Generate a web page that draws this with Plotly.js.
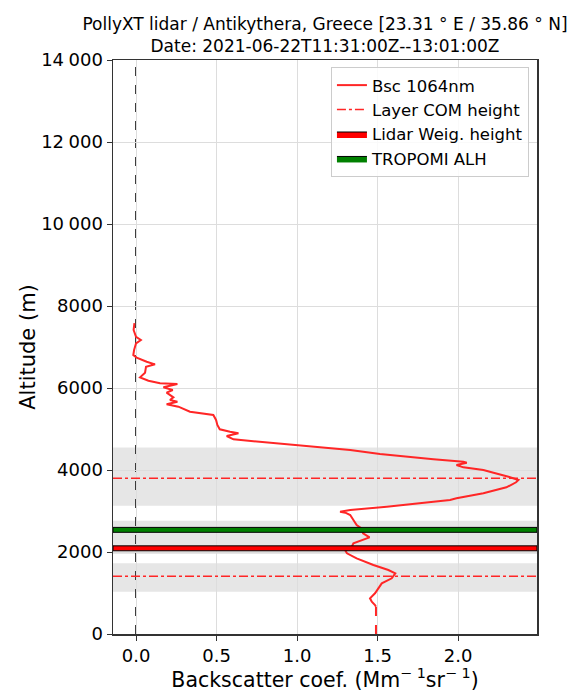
<!DOCTYPE html>
<html>
<head>
<meta charset="utf-8">
<script src="https://cdn.plot.ly/plotly-3.0.1.min.js"></script>
<style>html,body{margin:0;padding:0;background:#fff;}#chart{width:584px;height:692px;}</style>
</head>
<body>
<div id="chart"></div>
<script>
// Backscatter profile (altitude m, backscatter Mm^-1 sr^-1)
var altitude = [666, 707, 789, 870, 992, 1114, 1236, 1358, 1480, 1561, 1683, 1846, 1967, 2033, 2130, 2212, 2293, 2358, 2456, 2577, 2659, 2780, 2902, 2959, 2983, 3024, 3105, 3227, 3268, 3309, 3431, 3577, 3700, 3756, 3837, 3934, 4000, 4065, 4122, 4178, 4203, 4260, 4390, 4488, 4610, 4690, 4748, 4829, 4894, 4935, 4992, 5098, 5220, 5341, 5382, 5422, 5544, 5602, 5666, 5707, 5773, 5886, 5951, 6016, 6098, 6114, 6178, 6260, 6373, 6520, 6577, 6640, 6740, 6805, 6927, 7090, 7170, 7250, 7415, 7580];
var bsc1064 = [1.49, 1.484, 1.464, 1.453, 1.484, 1.505, 1.526, 1.588, 1.61, 1.567, 1.474, 1.37, 1.31, 1.30, 1.34, 1.35, 1.41, 1.45, 1.41, 1.40, 1.37, 1.35, 1.33, 1.30, 1.267, 1.33, 1.557, 1.847, 1.95, 1.99, 2.157, 2.30, 2.36, 2.375, 2.313, 2.22, 2.157, 2.033, 1.99, 2.054, 2.033, 1.847, 1.515, 1.33, 0.998, 0.81, 0.605, 0.563, 0.636, 0.584, 0.52, 0.505, 0.497, 0.48, 0.40, 0.335, 0.263, 0.19, 0.257, 0.211, 0.232, 0.19, 0.228, 0.17, 0.257, 0.149, 0.077, 0.025, 0.056, 0.062, 0.118, 0.066, 0.004, -0.017, -0.012, 0.0, 0.03, 0.0, -0.015, -0.01];
// Overlap region (dashed)
var altitudeLow = [0, 666];
var bscLow = [1.49, 1.49];
// Layer info
var layerBottom = [3130, 1950, 1030];
var layerTop = [4550, 2760, 1725];
var layerCOM = [3800, 1410];
var lidarWeigHeight = 2090;
var tropomiALH = 2540;
// Axes
var xRange = [-0.143, 2.49];
var yRange = [0, 14000];
var xTickVals = [0, 0.5, 1.0, 1.5, 2.0];
var xTickText = ['0.0', '0.5', '1.0', '1.5', '2.0'];
var yTickVals = [0, 2000, 4000, 6000, 8000, 10000, 12000, 14000];
var yTickText = ['0', '2000', '4000', '6000', '8000', '10\u2005000', '12\u2005000', '14\u2005000'];

var barHalf = 60; // half thickness of height bars (style)
var red = '#ff2626';
var font = 'DejaVu Sans, sans-serif';

var traces = [];
traces.push({x: bsc1064, y: altitude, mode: 'lines', name: 'Bsc 1064nm',
  line: {color: red, width: 2}});
traces.push({x: bscLow, y: altitudeLow, mode: 'lines', showlegend: false, hoverinfo: 'skip',
  line: {color: red, width: 2, dash: 'dash'}});
layerCOM.forEach(function(h, i) {
  traces.push({x: xRange, y: [h, h], mode: 'lines', name: 'Layer COM height',
    legendgroup: 'com', showlegend: i === 0,
    line: {color: red, width: 1.6, dash: 'dashdot'}});
});
function bar(h, color, name) {
  return {x: [xRange[0], xRange[1], xRange[1], xRange[0], xRange[0]],
    y: [h - barHalf, h - barHalf, h + barHalf, h + barHalf, h - barHalf],
    mode: 'lines', fill: 'toself', fillcolor: color, name: name,
    line: {color: 'black', width: 1}};
}
traces.push(bar(lidarWeigHeight, '#ff0000', 'Lidar Weig. height'));
traces.push(bar(tropomiALH, '#008000', 'TROPOMI ALH'));

var shapes = [];
layerBottom.forEach(function(b, i) {
  shapes.push({type: 'rect', xref: 'paper', yref: 'y', x0: 0, x1: 1, y0: b, y1: layerTop[i],
    fillcolor: 'rgba(128,128,128,0.2)', line: {width: 0}, layer: 'below'});
});
shapes.push({type: 'line', xref: 'x', yref: 'paper', x0: 0, x1: 0, y0: 0, y1: 1,
  line: {color: '#222222', width: 1.8, dash: 'dash'}, layer: 'below'});

var layout = {
  width: 584, height: 692,
  margin: {l: 113, r: 47, t: 60, b: 58},
  paper_bgcolor: '#fff', plot_bgcolor: '#fff',
  font: {family: font, color: '#000', size: 18},
  title: {text: 'PollyXT lidar / Antikythera, Greece [23.31 ° E / 35.86 ° N]<br>Date: 2021-06-22T11:31:00Z--13:01:00Z',
    font: {size: 17, family: font, color: '#000'}, xref: 'paper', x: 0.5, xanchor: 'center',
    yref: 'paper', y: 1, yanchor: 'bottom', pad: {b: 30}},
  xaxis: {range: xRange, tickvals: xTickVals, ticktext: xTickText,
    showgrid: true, gridcolor: '#dddddd', gridwidth: 1, zeroline: false,
    showline: true, mirror: true, linecolor: '#333', linewidth: 1.5,
    ticks: 'outside', ticklen: 5, tickcolor: '#333', tickfont: {size: 18},
    title: {text: 'Backscatter coef. (Mm<sup>\u2212 1</sup>sr<sup>\u2212 1</sup>)', font: {size: 20.5}, standoff: 10}},
  yaxis: {range: yRange, tickvals: yTickVals, ticktext: yTickText,
    showgrid: true, gridcolor: '#dddddd', gridwidth: 1, zeroline: false,
    showline: true, mirror: true, linecolor: '#333', linewidth: 1.5,
    ticks: 'outside', ticklen: 5, tickcolor: '#333', tickfont: {size: 18},
    title: {text: 'Altitude (m)', font: {size: 21}, standoff: 0}},
  legend: {x: 0.981, xanchor: 'right', y: 0.988, yanchor: 'top',
    bgcolor: 'rgba(255,255,255,0.85)', bordercolor: '#cccccc', borderwidth: 1,
    font: {size: 16.5}, tracegroupgap: 0},
  shapes: shapes,
  showlegend: true
};

Plotly.newPlot('chart', traces, layout, {staticPlot: true, displayModeBar: false});
</script>
</body>
</html>
